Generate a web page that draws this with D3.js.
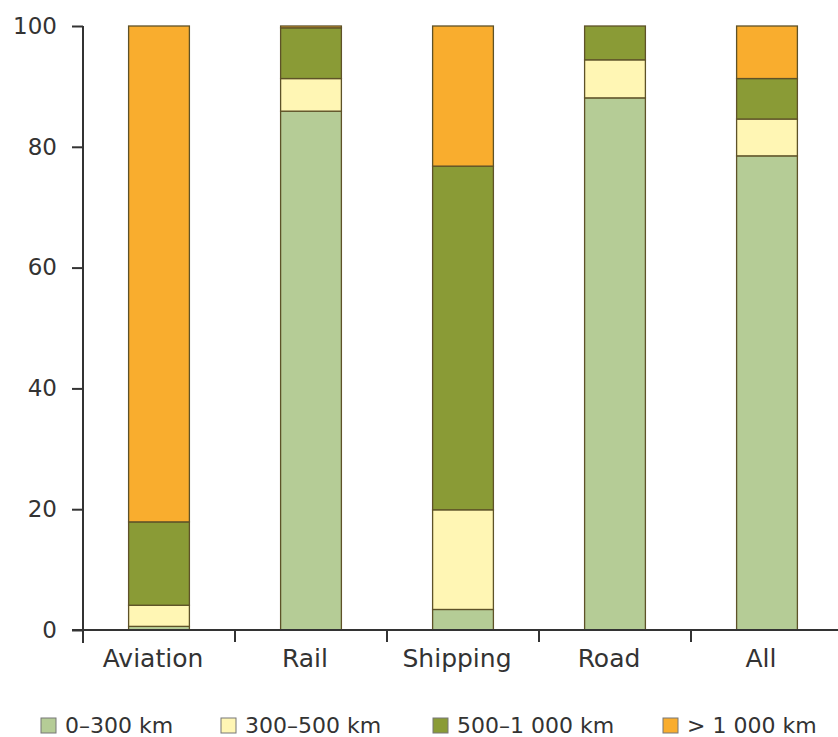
<!DOCTYPE html>
<html>
<head>
<meta charset="utf-8">
<script src="https://cdn.jsdelivr.net/npm/d3@7"></script>
<style>
  html, body { margin: 0; padding: 0; background: #fff; }
  svg { display: block; }
  text { font-family: "DejaVu Sans", Verdana, sans-serif; fill: #333; }
</style>
</head>
<body>
<svg id="chart" width="838" height="737"></svg>
<script>
// ---- data ----
const categories = ["Aviation", "Rail", "Shipping", "Road", "All"];
const seriesNames = ["0\u2013300 km", "300\u2013500 km", "500\u20131 000 km", "> 1 000 km"];
const s0_300 = [0.6, 85.9, 3.4, 88.1, 78.5];
const s300_500 = [3.5, 5.4, 16.5, 6.3, 6.1];
const s500_1000 = [13.8, 8.4, 56.9, 5.6, 6.7];
const s1000plus = [82.1, 0.3, 23.2, 0.0, 8.7];
const yTicks = [0, 20, 40, 60, 80, 100];
const colors = ["#b5cc96", "#fff6b4", "#8a9b36", "#f9ad2e"];

// ---- build table ----
const seriesValues = [s0_300, s300_500, s500_1000, s1000plus];
const table = categories.map((c, i) => {
  const row = { cat: c };
  seriesNames.forEach((s, j) => row[s] = seriesValues[j][i]);
  return row;
});
const stacked = d3.stack().keys(seriesNames)(table);

const svg = d3.select("#chart");
const x = d3.scaleBand().domain(categories).range([83, 843]).paddingInner(0.6).paddingOuter(0.3);
const y = d3.scaleLinear().domain([0, 100]).range([630, 26]);
const color = d3.scaleOrdinal().domain(seriesNames).range(colors);

// bars
svg.append("g").selectAll("g").data(stacked).join("g")
  .attr("fill", d => color(d.key))
  .selectAll("rect").data(d => d).join("rect")
  .attr("x", d => x(d.data.cat))
  .attr("width", x.bandwidth())
  .attr("y", d => y(d[1]))
  .attr("height", d => y(d[0]) - y(d[1]))
  .attr("stroke", "#5e5228")
  .attr("stroke-width", 1.3);

// y axis
const yAxis = svg.append("g").attr("transform", "translate(83,0)")
  .call(d3.axisLeft(y).tickValues(yTicks).tickSize(11).tickSizeOuter(0).tickPadding(15));
yAxis.select(".domain").attr("stroke", "#333").attr("stroke-width", 2).attr("d", "M0," + y(100) + "V643");
yAxis.selectAll(".tick line").attr("stroke", "#333").attr("stroke-width", 2);
yAxis.selectAll(".tick text").attr("font-size", 23).attr("fill", "#333")
  .style("font-family", '"DejaVu Sans", Verdana, sans-serif');

// x axis
const step = x.step();
const boundaries = categories.map(c => x(c) - (step - x.bandwidth()) / 2);
const xg = svg.append("g");
xg.append("line").attr("x1", 72).attr("x2", 838).attr("y1", y(0)).attr("y2", y(0))
  .attr("stroke", "#333").attr("stroke-width", 2);
xg.selectAll("line.tk").data(boundaries.slice(1)).join("line").attr("class", "tk")
  .attr("x1", d => d).attr("x2", d => d).attr("y1", y(0)).attr("y2", y(0) + 12)
  .attr("stroke", "#333").attr("stroke-width", 2);
xg.selectAll("text").data(categories).join("text")
  .attr("x", d => x(d) + x.bandwidth() / 2)
  .attr("dx", -6)
  .attr("y", 667)
  .attr("text-anchor", "middle")
  .attr("font-size", 25)
  .text(d => d);

// legend
const legendX = [41, 221, 433, 663];
const lg = svg.append("g").selectAll("g").data(seriesNames).join("g")
  .attr("transform", (d, i) => `translate(${legendX[i]},718)`);
lg.append("rect").attr("width", 15).attr("height", 15)
  .attr("fill", d => color(d)).attr("stroke", "#777").attr("stroke-width", 1);
lg.append("text").attr("x", 24).attr("y", 15).attr("font-size", 22).text(d => d);
</script>
</body>
</html>
